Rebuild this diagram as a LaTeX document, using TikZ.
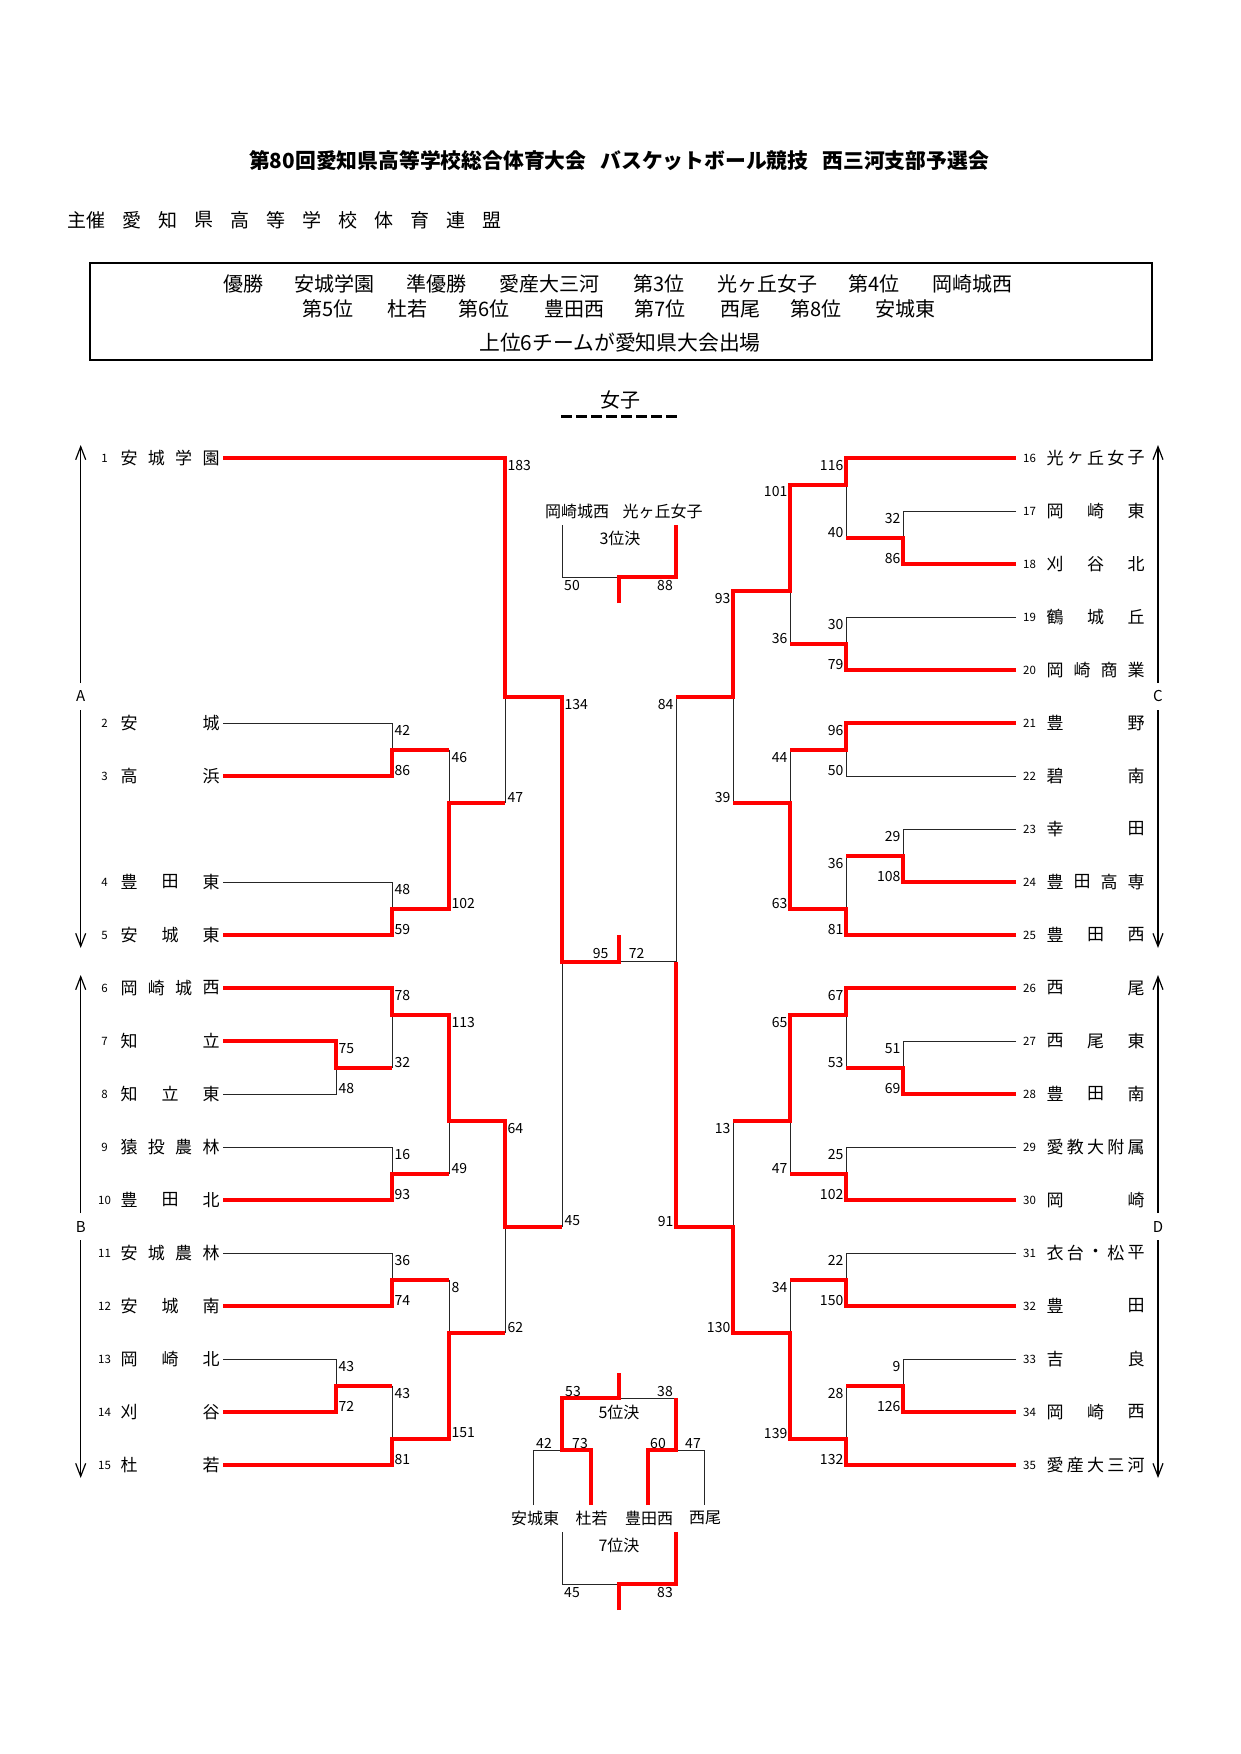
\documentclass[tikz,border=0pt]{standalone}
\usepackage{fontspec}
\setmainfont{Noto Sans CJK JP}
\usetikzlibrary{arrows.meta}
\newcount\scn
\tikzset{
 bk/.style={line width=1pt, draw=black!85},
 rd/.style={line width=4pt, draw=red},
 sc/.style={font=\fontsize{14}{14}\selectfont, inner sep=0pt},
 tn/.style={font=\fontsize{17}{17}\selectfont, inner sep=0pt},
 nm/.style={font=\fontsize{11.5}{11.5}\selectfont, inner sep=0pt},
 ct/.style={font=\fontsize{16}{16}\selectfont, inner sep=0pt},
 bx/.style={font=\fontsize{20}{20}\selectfont, inner sep=0pt, anchor=west},
 lu/.style={sc,anchor=west,xshift=2.5pt,yshift=-7.5pt},
 ll/.style={sc,anchor=west,xshift=2.5pt,yshift=5.5pt},
 ru/.style={sc,anchor=east,xshift=-2.5pt,yshift=-7.5pt},
 rl/.style={sc,anchor=east,xshift=-2.5pt,yshift=5.5pt},
 ar/.style={line width=1.2pt, -{Straight Barb[length=13pt,width=10pt]}},
}
\newcommand\teamL[4]{\node[nm] (nL#2) at (104.5,#1) {#2};
 \foreach \ch [count=\i from 0] in {#4}{\node[tn] (tL#2c\i) at ({129+\i*82/(#3-1)},#1) {\ch};}}
\newcommand\teamR[4]{\node[nm] (nR#2) at (1029.5,#1) {#2};
 \foreach \ch [count=\i from 0] in {#4}{\node[tn] (tR#2c\i) at ({1055+\i*81/(#3-1)},#1) {\ch};}}
\newcommand\mL[5]{\global\advance\scn by 1 \node[lu] (su\the\scn) at (#1,#2) {#4};
 \node[ll] (sl\the\scn) at (#1,#3) {#5};}
\newcommand\mR[5]{\global\advance\scn by 1 \node[ru] (su\the\scn) at (#1,#2) {#4};
 \node[rl] (sl\the\scn) at (#1,#3) {#5};}
\begin{document}
\begin{tikzpicture}[x=1pt,y=-1pt]
\useasboundingbox (0,0) rectangle (1241,1754);
\fill[white] (0,0) rectangle (1241,1754);
% header
\node[font=\bfseries\fontsize{20.8}{20.8}\selectfont, inner sep=0pt] (title) at (619,161)
 {第80回愛知県高等学校総合体育大会\hspace{14pt}バスケットボール競技\hspace{14pt}西三河支部予選会};
\node[font=\fontsize{19}{19}\selectfont, inner sep=0pt] (s0) at (76.5,220) {主};
\node[font=\fontsize{19}{19}\selectfont, inner sep=0pt] (s1) at (96,220) {催};
\foreach \ch [count=\i from 0] in {愛,知,県,高,等,学,校,体,育,連,盟}
 {\node[font=\fontsize{19}{19}\selectfont, inner sep=0pt] (sub\i) at ({132+\i*36},220) {\ch};}
\draw[line width=2.5pt] (90,263) rectangle (1152,360);
\node[bx] (w1) at (223,284) {優勝};
\node[bx] (w2) at (294,284) {安城学園};
\node[bx] (w3) at (406,284) {準優勝};
\node[bx] (w4) at (499,284) {愛産大三河};
\node[bx] (w5) at (633,284) {第3位};
\node[bx] (w6) at (717,284) {光ヶ丘女子};
\node[bx] (w7) at (848,284) {第4位};
\node[bx] (w8) at (932,284) {岡崎城西};
\node[bx] (v1) at (302,309) {第5位};
\node[bx] (v2) at (387,309) {杜若};
\node[bx] (v3) at (458,309) {第6位};
\node[bx] (v4) at (544,309) {豊田西};
\node[bx] (v5) at (634,309) {第7位};
\node[bx] (v6) at (720,309) {西尾};
\node[bx] (v7) at (790,309) {第8位};
\node[bx] (v8) at (875,309) {安城東};
\node[font=\fontsize{20.8}{20.8}\selectfont, inner sep=0pt] (q) at (620,343) {上位6チームが愛知県大会出場};
\node[font=\fontsize{20}{20}\selectfont, inner sep=0pt] (girls) at (620,400) {女子};
\draw[line width=3pt, dash pattern=on 11pt off 4pt] (561,416) -- (677,416);
% arrows
\draw[ar] (80.7,683) -- (80.7,445);
\draw[ar] (80.7,710) -- (80.7,948);
\draw[ar] (80.7,1213) -- (80.7,975);
\draw[ar] (80.7,1240) -- (80.7,1478);
\draw[ar] (1158,683) -- (1158,445);
\draw[ar] (1158,710) -- (1158,948);
\draw[ar] (1158,1213) -- (1158,975);
\draw[ar] (1158,1240) -- (1158,1478);
\node[font=\fontsize{15}{15}\selectfont, inner sep=0pt] (lA) at (80.7,696) {A};
\node[font=\fontsize{15}{15}\selectfont, inner sep=0pt] (lB) at (80.7,1227) {B};
\node[font=\fontsize{15}{15}\selectfont, inner sep=0pt] (lC) at (1158,696) {C};
\node[font=\fontsize{15}{15}\selectfont, inner sep=0pt] (lD) at (1158,1227) {D};
% 3rd place
\node[ct] (p3a) at (577,511) {岡崎城西};
\node[ct] (p3b) at (662.5,511) {光ヶ丘女子};
\node[ct] (p3t) at (620,538) {3位決};
\draw[bk] (562,525) -- (562,577) -- (619,577);
\draw[rd] (619,603) -- (619,577) -- (676,577) -- (676,525);
\node[sc,anchor=north] (p3s1) at (572,580) {50};
\node[sc,anchor=north] (p3s2) at (665,580) {88};
% 5th / 7th place
\draw[bk] (533,1505) -- (533,1450) -- (562,1450);
\draw[bk] (619,1398) -- (676,1398);
\draw[bk] (676,1450) -- (704,1450) -- (704,1505);
\draw[rd] (591,1505) -- (591,1450) -- (562,1450) -- (562,1398) -- (619,1398) -- (619,1373);
\draw[rd] (648,1505) -- (648,1450) -- (676,1450) -- (676,1398);
\node[sc,anchor=south] (f5a) at (573,1397) {53};
\node[sc,anchor=south] (f5b) at (665,1397) {38};
\node[sc,anchor=south] (f5c) at (544,1449) {42};
\node[sc,anchor=south] (f5d) at (580,1449) {73};
\node[sc,anchor=south] (f5e) at (658,1449) {60};
\node[sc,anchor=south] (f5f) at (693,1449) {47};
\node[ct] (p5t) at (619,1412.5) {5位決};
\node[ct] (p5a) at (535,1518) {安城東};
\node[ct] (p5b) at (591.5,1518) {杜若};
\node[ct] (p5c) at (649,1518) {豊田西};
\node[ct] (p5d) at (705,1518) {西尾};
\node[ct] (p7t) at (619,1545) {7位決};
\draw[bk] (562,1532) -- (562,1584) -- (619,1584);
\draw[rd] (619,1610) -- (619,1584) -- (676,1584) -- (676,1532);
\node[sc,anchor=north] (f7a) at (572,1587) {45};
\node[sc,anchor=north] (f7b) at (665,1587) {83};
% bracket
\begin{scope}[yshift=-458pt, y=-53pt]
\teamL{0}{1}{4}{安,城,学,園}
\teamL{5}{2}{2}{安,城}
\teamL{6}{3}{2}{高,浜}
\teamL{8}{4}{3}{豊,田,東}
\teamL{9}{5}{3}{安,城,東}
\teamL{10}{6}{4}{岡,崎,城,西}
\teamL{11}{7}{2}{知,立}
\teamL{12}{8}{3}{知,立,東}
\teamL{13}{9}{4}{猿,投,農,林}
\teamL{14}{10}{3}{豊,田,北}
\teamL{15}{11}{4}{安,城,農,林}
\teamL{16}{12}{3}{安,城,南}
\teamL{17}{13}{3}{岡,崎,北}
\teamL{18}{14}{2}{刈,谷}
\teamL{19}{15}{2}{杜,若}
\teamR{0}{16}{5}{光,ヶ,丘,女,子}
\teamR{1}{17}{3}{岡,崎,東}
\teamR{2}{18}{3}{刈,谷,北}
\teamR{3}{19}{3}{鶴,城,丘}
\teamR{4}{20}{4}{岡,崎,商,業}
\teamR{5}{21}{2}{豊,野}
\teamR{6}{22}{2}{碧,南}
\teamR{7}{23}{2}{幸,田}
\teamR{8}{24}{4}{豊,田,高,専}
\teamR{9}{25}{3}{豊,田,西}
\teamR{10}{26}{2}{西,尾}
\teamR{11}{27}{3}{西,尾,東}
\teamR{12}{28}{3}{豊,田,南}
\teamR{13}{29}{5}{愛,教,大,附,属}
\teamR{14}{30}{2}{岡,崎}
\teamR{15}{31}{5}{衣,台,・,松,平}
\teamR{16}{32}{2}{豊,田}
\teamR{17}{33}{2}{吉,良}
\teamR{18}{34}{3}{岡,崎,西}
\teamR{19}{35}{5}{愛,産,大,三,河}
% black lines left
\draw[bk] (223,5) -| (392,5.5);
\draw[bk] (449,5.5) -- (449,6.5);
\draw[bk] (223,8) -| (392,8.5);
\draw[bk] (505,4.5) -- (505,6.5);
\draw[bk] (562,9.5) -- (562,14.5);
\draw[bk] (223,12) -| (336,11.5);
\draw[bk] (392,10.5) -- (392,11.5);
\draw[bk] (223,13) -| (392,13.5);
\draw[bk] (449,12.5) -- (449,13.5);
\draw[bk] (505,14.5) -- (505,16.5);
\draw[bk] (223,15) -| (392,15.5);
\draw[bk] (449,15.5) -- (449,16.5);
\draw[bk] (223,17) -| (336,17.5);
\draw[bk] (392,17.5) -- (392,18.5);
% black lines right
\draw[bk] (1016,1) -| (903,1.5);
\draw[bk] (846,0.5) -- (846,1.5);
\draw[bk] (790,2.5) -- (790,3.5);
\draw[bk] (1016,3) -| (846,3.5);
\draw[bk] (733,4.5) -- (733,6.5);
\draw[bk] (676,4.5) -- (676,9.5) -- (619,9.5);
\draw[bk] (1016,6) -| (846,5.5);
\draw[bk] (790,5.5) -- (790,6.5);
\draw[bk] (1016,7) -| (903,7.5);
\draw[bk] (846,7.5) -- (846,8.5);
\draw[bk] (1016,11) -| (903,11.5);
\draw[bk] (846,10.5) -- (846,11.5);
\draw[bk] (790,12.5) -- (790,13.5);
\draw[bk] (1016,13) -| (846,13.5);
\draw[bk] (733,12.5) -- (733,14.5);
\draw[bk] (1016,15) -| (846,15.5);
\draw[bk] (790,15.5) -- (790,16.5);
\draw[bk] (1016,17) -| (903,17.5);
\draw[bk] (846,17.5) -- (846,18.5);
% red lines left
\draw[rd] (223,6) -| (392,5.5) -- (449,5.5);
\draw[rd] (223,9) -| (392,8.5) -| (449,6.5) -- (505,6.5);
\draw[rd] (223,0) -| (505,4.5) -| (562,9.5) -- (619,9.5) -- (619,9);
\draw[rd] (223,11) -| (336,11.5) -- (392,11.5);
\draw[rd] (223,10) -| (392,10.5) -| (449,12.5) -| (505,14.5) -- (562,14.5);
\draw[rd] (223,14) -| (392,13.5) -- (449,13.5);
\draw[rd] (223,16) -| (392,15.5) -- (449,15.5);
\draw[rd] (223,18) -| (336,17.5) -- (392,17.5);
\draw[rd] (223,19) -| (392,18.5) -| (449,16.5) -- (505,16.5);
% red lines right
\draw[rd] (1016,0) -| (846,0.5) -| (790,2.5) -| (733,4.5) -- (676,4.5);
\draw[rd] (1016,2) -| (903,1.5) -- (846,1.5);
\draw[rd] (1016,4) -| (846,3.5) -- (790,3.5);
\draw[rd] (1016,5) -| (846,5.5) -- (790,5.5);
\draw[rd] (1016,8) -| (903,7.5) -- (846,7.5);
\draw[rd] (1016,9) -| (846,8.5) -| (790,6.5) -- (733,6.5);
\draw[rd] (1016,10) -| (846,10.5) -| (790,12.5) -- (733,12.5);
\draw[rd] (1016,12) -| (903,11.5) -- (846,11.5);
\draw[rd] (1016,14) -| (846,13.5) -- (790,13.5);
\draw[rd] (1016,16) -| (846,15.5) -- (790,15.5);
\draw[rd] (1016,18) -| (903,17.5) -- (846,17.5);
\draw[rd] (1016,19) -| (846,18.5) -| (790,16.5) -| (733,14.5) -- (676,14.5) -- (676,9.5);
% scores left
\mL{392}{5}{6}{42}{86}
\mL{392}{8}{9}{48}{59}
\mL{449}{5.5}{8.5}{46}{102}
\mL{505}{0}{6.5}{183}{47}
\mL{562}{4.5}{14.5}{134}{45}
\mL{336}{11}{12}{75}{48}
\mL{392}{10}{11.5}{78}{32}
\mL{392}{13}{14}{16}{93}
\mL{449}{10.5}{13.5}{113}{49}
\mL{505}{12.5}{16.5}{64}{62}
\mL{392}{15}{16}{36}{74}
\mL{336}{17}{18}{43}{72}
\mL{392}{17.5}{19}{43}{81}
\mL{449}{15.5}{18.5}{8}{151}
% scores right
\mR{846}{0}{1.5}{116}{40}
\mR{903}{1}{2}{32}{86}
\mR{790}{0.5}{3.5}{101}{36}
\mR{846}{3}{4}{30}{79}
\mR{733}{2.5}{6.5}{93}{39}
\mR{676}{4.5}{14.5}{84}{91}
\mR{846}{5}{6}{96}{50}
\mR{790}{5.5}{8.5}{44}{63}
\mR{903}{7}{8}{29}{108}
\mR{846}{7.5}{9}{36}{81}
\mR{846}{10}{11.5}{67}{53}
\mR{903}{11}{12}{51}{69}
\mR{790}{10.5}{13.5}{65}{47}
\mR{846}{13}{14}{25}{102}
\mR{733}{12.5}{16.5}{13}{130}
\mR{846}{15}{16}{22}{150}
\mR{790}{15.5}{18.5}{34}{139}
\mR{903}{17}{18}{9}{126}
\mR{846}{17.5}{19}{28}{132}
% final
\node[sc,anchor=south] (fin1) at (600.7,9.45) {95};
\node[sc,anchor=south] (fin2) at (636.7,9.45) {72};
\end{scope}
\end{tikzpicture}
\end{document}
